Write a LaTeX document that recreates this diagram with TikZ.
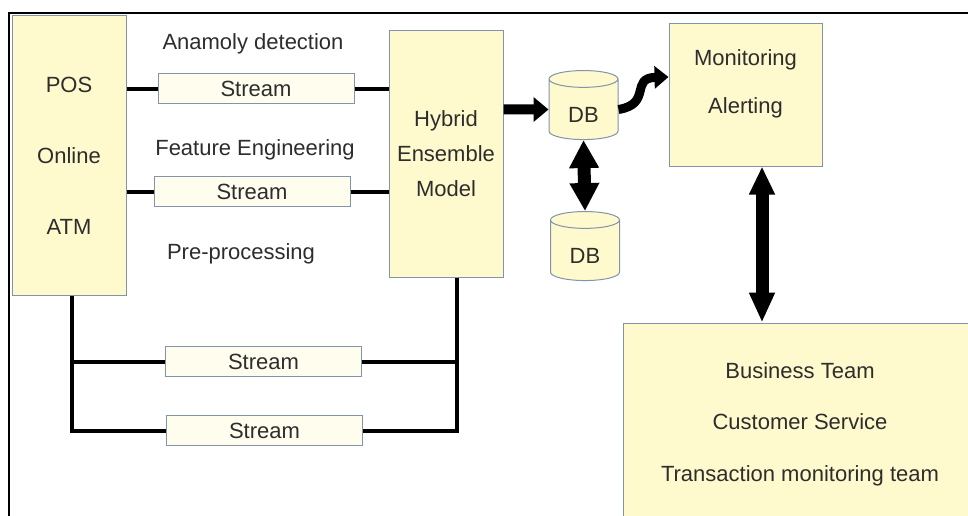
\documentclass[tikz,border=0pt]{standalone}
\usepackage{fontspec}
\setmainfont{Liberation Sans}
\usetikzlibrary{shapes.geometric,arrows.meta}
\definecolor{boxfill}{RGB}{255,250,205}
\definecolor{boxline}{RGB}{128,148,172}
\definecolor{streamfill}{RGB}{255,253,238}
\definecolor{txt}{RGB}{45,45,45}
\begin{document}
\begin{tikzpicture}[x=1pt,y=-1pt,
  box/.style={draw=boxline, fill=boxfill, line width=1pt, text=txt, align=center, inner sep=0pt},
  streambox/.style={draw=boxline, fill=streamfill, line width=1pt, minimum width=196pt, minimum height=30pt, text=txt, inner sep=0pt, font=\fontsize{22}{26}\selectfont},
  dbshape/.style={cylinder, shape border rotate=90, aspect=0.55, draw=boxline, fill=boxfill, line width=1pt, minimum width=69pt, minimum height=69pt, inner sep=0pt, text=txt, text height=26pt, text depth=0pt, font=\fontsize{22}{26}\selectfont},
  lbl/.style={text=txt, inner sep=0pt, font=\fontsize{22}{26}\selectfont},
  conn/.style={line width=4pt, black, line join=miter},
  fat/.style={black, line width=#1},
]
\clip (0,0) rectangle (968,516);
\fill[white] (0,0) rectangle (968,516);
\draw[line width=2pt] (9,516) -- (9,13) -- (968,13);

% main boxes
\node[box, minimum width=114pt, minimum height=279pt, font=\fontsize{22}{71}\selectfont] (src) at (69,155.5) {POS\\Online\\ATM};
\node[box, minimum width=114pt, minimum height=246pt, font=\fontsize{22}{35}\selectfont] (hyb) at (446,154) {Hybrid\\Ensemble\\Model};
\node[box, minimum width=153pt, minimum height=142pt] (mon) at (745.5,95) {};
\node[lbl, align=center, font=\fontsize{22}{48}\selectfont] (montext) at (745.5,84) {Monitoring\\Alerting};
\node[box, minimum width=354pt, minimum height=202pt, font=\fontsize{22}{51.5}\selectfont] (bot) at (800,424) {Business Team\\Customer Service\\Transaction monitoring team};

% stream boxes
\node[streambox] (s1) at (256,89) {Stream};
\node[streambox] (s2) at (252,191.5) {Stream};
\node[streambox] (s3) at (263.5,361.5) {Stream};
\node[streambox] (s4) at (264.5,430.5) {Stream};

% labels
\node[lbl] (l1) at (253,44) {Anamoly detection};
\node[lbl] (l2) at (255,150) {Feature Engineering};
\node[lbl] (l3) at (241,254) {Pre-processing};

% databases
\node[dbshape] (db1) at (583.5,109.5) {DB};
\node[dbshape] (db2) at (585,250.5) {DB};

% stream connectors
\draw[conn] (src.east |- s1) -- (s1.west);
\draw[conn] (s1.east) -- (hyb.west |- s1);
\draw[conn] (src.east |- s2) -- (s2.west);
\draw[conn] (s2.east) -- (hyb.west |- s2);

\coordinate (jl) at (72,432);
\coordinate (jr) at (457,432);
\draw[conn] (src.south -| jl) |- (s4.west);
\draw[conn] (s3.west) -- (s3.west -| jl);
\draw[conn] (hyb.south -| jr) |- (s4.east);
\draw[conn] (s3.east) -- (s3.east -| jr);

% arrows
\draw[fat=10pt, -{Triangle[length=15pt,width=24pt]}] (hyb.east |- db1) -- (db1.west);
\draw[fat=13pt, {Triangle[length=28pt,width=28pt]}-{Triangle[length=28pt,width=28pt]}] (db1.south) -- (db2.north);
\draw[fat=9pt, -{Triangle[length=14pt,width=22pt]}] (db1.east) .. controls (652,104) and (630,78) .. (mon.west |- 0,77);
\draw[fat=13pt, {Triangle[length=28pt,width=24pt]}-{Triangle[length=30pt,width=24pt]}] (mon.south -| 762,0) -- (bot.north -| 762,0);
\end{tikzpicture}
\end{document}
